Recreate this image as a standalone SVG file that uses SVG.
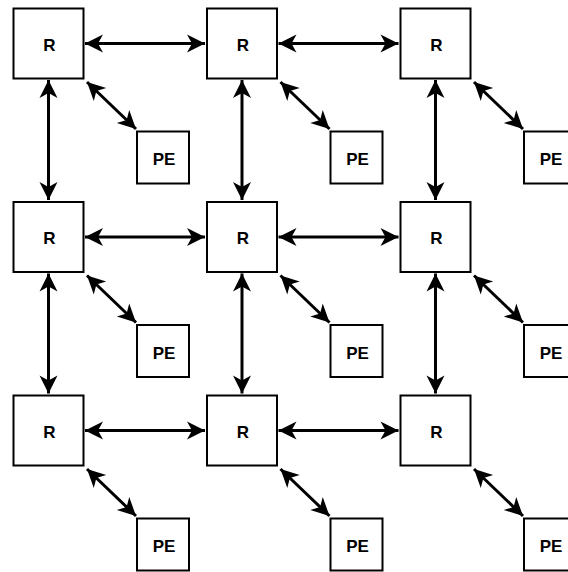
<svg xmlns="http://www.w3.org/2000/svg" width="568" height="572" viewBox="0 0 568 572">
<style>
.box{fill:#fff;stroke:#000;stroke-width:2}
.lbl{font-family:"Liberation Sans",Arial,sans-serif;font-weight:bold;font-size:17px;text-anchor:middle;dominant-baseline:central;fill:#000}
.c{stroke:#000;stroke-width:3;fill:none;marker-start:url(#ah);marker-end:url(#ah)}
</style>
<defs>
<marker id="ah" markerUnits="userSpaceOnUse" markerWidth="22" markerHeight="22" viewBox="-20 -11 22 22" refX="0" refY="0" orient="auto-start-reverse">
<path d="M0,0 L-18,-9 L-13,0 L-18,9 Z" fill="#000"/>
</marker>
</defs>
<rect width="568" height="572" fill="#fff"/>
<g id="connectors">
<path class="c" d="M85,43.5 H205"/>
<path class="c" d="M278.5,43.5 H398.5"/>
<path class="c" d="M85,237 H205"/>
<path class="c" d="M278.5,237 H398.5"/>
<path class="c" d="M85,430.5 H205"/>
<path class="c" d="M278.5,430.5 H398.5"/>
<path class="c" d="M48.5,80 V200"/>
<path class="c" d="M242,80 V200"/>
<path class="c" d="M435.5,80 V200"/>
<path class="c" d="M48.5,273.5 V393.5"/>
<path class="c" d="M242,273.5 V393.5"/>
<path class="c" d="M435.5,273.5 V393.5"/>
<path class="c" d="M87,82 L136,129"/>
<path class="c" d="M280.5,82 L329.5,129"/>
<path class="c" d="M474,82 L523,129"/>
<path class="c" d="M87,275.5 L136,322.5"/>
<path class="c" d="M280.5,275.5 L329.5,322.5"/>
<path class="c" d="M474,275.5 L523,322.5"/>
<path class="c" d="M87,469 L136,516"/>
<path class="c" d="M280.5,469 L329.5,516"/>
<path class="c" d="M474,469 L523,516"/>
</g>
<g id="R11"><rect class="box" x="13.5" y="8.5" width="70" height="70"/><text class="lbl" x="49.5" y="45">R</text></g>
<g id="R12"><rect class="box" x="207" y="8.5" width="70" height="70"/><text class="lbl" x="243" y="45">R</text></g>
<g id="R13"><rect class="box" x="400.5" y="8.5" width="70" height="70"/><text class="lbl" x="436.5" y="45">R</text></g>
<g id="R21"><rect class="box" x="13.5" y="202" width="70" height="70"/><text class="lbl" x="49.5" y="238.5">R</text></g>
<g id="R22"><rect class="box" x="207" y="202" width="70" height="70"/><text class="lbl" x="243" y="238.5">R</text></g>
<g id="R23"><rect class="box" x="400.5" y="202" width="70" height="70"/><text class="lbl" x="436.5" y="238.5">R</text></g>
<g id="R31"><rect class="box" x="13.5" y="395.5" width="70" height="70"/><text class="lbl" x="49.5" y="432">R</text></g>
<g id="R32"><rect class="box" x="207" y="395.5" width="70" height="70"/><text class="lbl" x="243" y="432">R</text></g>
<g id="R33"><rect class="box" x="400.5" y="395.5" width="70" height="70"/><text class="lbl" x="436.5" y="432">R</text></g>
<g id="PE11"><rect class="box" x="137" y="131.5" width="52" height="52"/><text class="lbl" x="164" y="159.5">PE</text></g>
<g id="PE12"><rect class="box" x="330.5" y="131.5" width="52" height="52"/><text class="lbl" x="357.5" y="159.5">PE</text></g>
<g id="PE13"><rect class="box" x="524" y="131.5" width="52" height="52"/><text class="lbl" x="551" y="159.5">PE</text></g>
<g id="PE21"><rect class="box" x="137" y="325" width="52" height="52"/><text class="lbl" x="164" y="353">PE</text></g>
<g id="PE22"><rect class="box" x="330.5" y="325" width="52" height="52"/><text class="lbl" x="357.5" y="353">PE</text></g>
<g id="PE23"><rect class="box" x="524" y="325" width="52" height="52"/><text class="lbl" x="551" y="353">PE</text></g>
<g id="PE31"><rect class="box" x="137" y="518.5" width="52" height="52"/><text class="lbl" x="164" y="546.5">PE</text></g>
<g id="PE32"><rect class="box" x="330.5" y="518.5" width="52" height="52"/><text class="lbl" x="357.5" y="546.5">PE</text></g>
<g id="PE33"><rect class="box" x="524" y="518.5" width="52" height="52"/><text class="lbl" x="551" y="546.5">PE</text></g>
</svg>
